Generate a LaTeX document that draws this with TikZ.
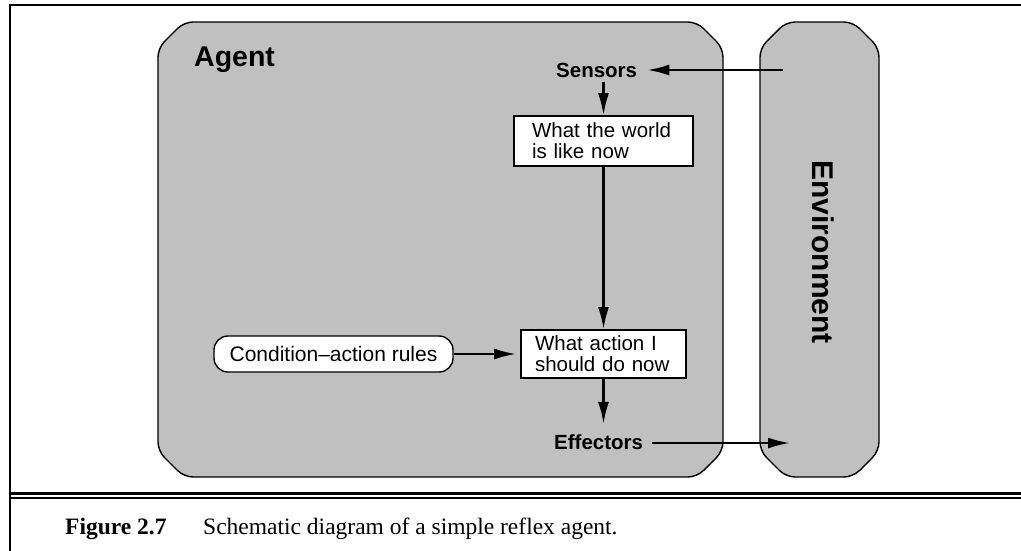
\documentclass[tikz,border=0pt]{standalone}
\usepackage{fontspec}
\setmainfont{Liberation Serif}
\setsansfont{Liberation Sans}
\usetikzlibrary{arrows.meta}

\definecolor{panel}{RGB}{192,192,192}

\begin{document}
\begin{tikzpicture}[x=1pt,y=-1pt,
  panelbox/.style={fill=panel,draw=black,line width=1.4pt,rounded corners=9pt},
  flow/.style={-{Latex[length=22pt,width=11pt]},line width=2.4pt},
  stagebox/.style={draw=black,fill=white,line width=1.6pt,
    font=\sffamily\fontsize{20.5}{21}\selectfont,align=left,anchor=center},
  portlabel/.style={anchor=base west,inner sep=0pt,
    font=\sffamily\bfseries\fontsize{20.5}{21}\selectfont},
  rulebox/.style={draw=black,fill=white,line width=1.4pt,rounded corners=14pt,
    minimum width=239pt,minimum height=36pt,inner sep=0pt,
    font=\sffamily\fontsize{21}{21}\selectfont},
  frame/.style={draw=black,line width=2pt}
]
\useasboundingbox (0,0) rectangle (1021,550);

% outer figure frame and caption rule
\draw[frame] (10,551) -- (10,4.7) -- (1022,4.7);
\draw[draw=black,line width=3pt] (10,493.5) -- (1022,493.5);
\draw[frame] (10,498) -- (1022,498);

% agent panel
\path[panelbox] (184,22) -- (697,22) -- (723,48) -- (723,451) -- (697,477)
  -- (184,477) -- (158,451) -- (158,48) -- cycle;
% environment panel
\path[panelbox] (786,22) -- (853,22) -- (879,48) -- (879,451) -- (853,477)
  -- (786,477) -- (760,451) -- (760,48) -- cycle;

\node[anchor=base west,inner sep=0pt,
  font=\sffamily\bfseries\fontsize{28.5}{29}\selectfont] (agentlabel) at (194,66) {Agent};
\node[rotate=-90,inner sep=0pt,
  font=\sffamily\bfseries\fontsize{30}{30}\selectfont] (envlabel) at (823,252) {Environment};

% inner components
\node[portlabel] (sensors) at (556,77) {Sensors};
\node[portlabel] (effectors) at (554,449) {Effectors};

\node[stagebox,minimum width=179pt,minimum height=50pt,inner xsep=18pt,
  text width=143pt] (world) at (603.5,141) {What the world\\is like now};
\node[stagebox,minimum width=165pt,minimum height=48pt,inner xsep=14pt,
  text width=137pt] (action) at (603.5,354) {What action I\\should do now};

\node[rulebox] (rules) at (333.5,354) {Condition\textendash action rules};

\coordinate (envout) at (783,70);
\coordinate (envin) at (790,443);

% connectors
\draw[flow,shorten >=10pt] (envout) -- (envout -| sensors.east);
\draw[flow,shorten <=5pt] (world.north |- sensors.south) -- (world.north);
\draw[flow] (world.south) -- (action.north);
\draw[flow,shorten >=4pt] (rules.east) -- (rules.east -| action.west);
\draw[flow,shorten >=10pt] (action.south) -- (action.south |- effectors.north);
\draw[flow,shorten <=9pt] (effectors.east |- envin) -- (envin);

% caption
\node[anchor=base west,inner sep=0pt,font=\bfseries\fontsize{23.5}{24}\selectfont]
  (capnum) at (65,534) {Figure 2.7};
\node[anchor=base west,inner sep=0pt,font=\fontsize{23.5}{24}\selectfont]
  (captext) at (203,534) {Schematic diagram of a simple reflex agent.};
\end{tikzpicture}
\end{document}
